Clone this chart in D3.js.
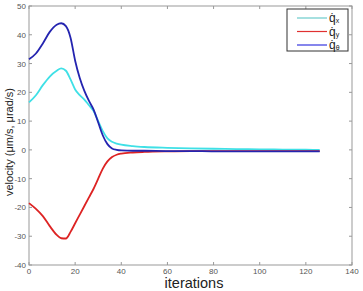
<!DOCTYPE html>
<html>
<head>
<meta charset="utf-8">
<script src="https://cdn.jsdelivr.net/npm/d3@7"></script>
<style>
  body { margin: 0; background: #fff; }
  text { font-family: "Liberation Sans", Arial, sans-serif; }
</style>
</head>
<body>
<script>
/* ------------------------------- Data ------------------------------- */
const iters = [0, 3, 6, 9, 12, 14, 16, 18, 20, 22, 24, 26, 28, 30, 32, 34, 36, 38, 40, 45, 50, 60, 70, 80, 90, 100, 110, 120, 126];
const qx = [16.5, 19, 22.5, 25.5, 27.5, 28.3, 27.5, 24.5, 21, 19, 17.5, 15.5, 13.5, 10, 6.5, 4, 2.8, 2.2, 1.8, 1.3, 1, 0.7, 0.5, 0.4, 0.3, 0.2, 0.1, 0.05, 0];
const qy = [-18.5, -20.5, -23, -26.5, -29.5, -30.7, -30.8, -28.5, -25.5, -22.5, -19.5, -16.5, -13.5, -10, -6.5, -4, -2.5, -1.7, -1.3, -0.9, -0.7, -0.5, -0.4, -0.4, -0.4, -0.4, -0.4, -0.4, -0.4];
const qtheta = [31.5, 33.5, 37, 41, 43.5, 44, 43, 39, 31, 25, 20.5, 17, 14, 9.5, 5, 2, 0.5, 0, -0.2, -0.3, -0.3, -0.4, -0.4, -0.5, -0.5, -0.5, -0.5, -0.5, -0.5];
const xTicks = [0, 20, 40, 60, 80, 100, 120, 140];
const yTicks = [-40, -30, -20, -10, 0, 10, 20, 30, 40, 50];
const seriesNames = ["x", "y", "\u03b8"];

/* ------------------------------ Layout ------------------------------ */
const W = 363, H = 291;
const mLeft = 29, mRight = 352, mTop = 6, mBottom = 265;
const colors = ["#3fe0e6", "#dd2323", "#2424b0"];
const legendColors = ["#6ccccc", "#e03030", "#3434e0"];

const svg = d3.select("body").append("svg").attr("width", W).attr("height", H);

const x = d3.scaleLinear().domain([0, 140]).range([mLeft, mRight]);
const y = d3.scaleLinear().domain([-40, 50]).range([mBottom, mTop]);

// axes box
svg.append("rect")
    .attr("x", mLeft).attr("y", mTop)
    .attr("width", mRight - mLeft).attr("height", mBottom - mTop)
    .attr("fill", "none").attr("stroke", "#999").attr("stroke-width", 1);

const tickLen = 3;
const axisColor = "#999";
const labelColor = "#555";

// bottom + top ticks
xTicks.forEach(t => {
    svg.append("line").attr("x1", x(t)).attr("x2", x(t)).attr("y1", mBottom).attr("y2", mBottom - tickLen).attr("stroke", axisColor);
    svg.append("line").attr("x1", x(t)).attr("x2", x(t)).attr("y1", mTop).attr("y2", mTop + tickLen).attr("stroke", axisColor);
    svg.append("text").attr("x", x(t)).attr("y", mBottom + 8.5)
        .attr("text-anchor", "middle").attr("font-size", "8px").attr("fill", labelColor)
        .text(t);
});

// left + right ticks
yTicks.forEach(t => {
    svg.append("line").attr("x1", mLeft).attr("x2", mLeft + tickLen).attr("y1", y(t)).attr("y2", y(t)).attr("stroke", axisColor);
    svg.append("line").attr("x1", mRight).attr("x2", mRight - tickLen).attr("y1", y(t)).attr("y2", y(t)).attr("stroke", axisColor);
    svg.append("text").attr("x", mLeft - 3).attr("y", y(t) + 3)
        .attr("text-anchor", "end").attr("font-size", "8px").attr("fill", labelColor)
        .text(t);
});

// axis titles
svg.append("text").attr("x", 194).attr("y", 288)
    .attr("text-anchor", "middle").attr("font-size", "14.5px").attr("fill", "#222")
    .text("iterations");

svg.append("text")
    .attr("transform", `translate(13, 142) rotate(-90)`)
    .attr("text-anchor", "middle").attr("font-size", "11px").attr("fill", "#222")
    .text("velocity (\u03bcm/s, \u03bcrad/s)");

/* ------------------------------ Lines ------------------------------- */
const line = d3.line()
    .x((d, i) => x(iters[i]))
    .y(d => y(d))
    .curve(d3.curveMonotoneX);

[qx, qy, qtheta].forEach((s, i) => {
    svg.append("path")
        .attr("d", line(s))
        .attr("fill", "none")
        .attr("stroke", colors[i])
        .attr("stroke-width", 1.8);
});

/* ------------------------------ Legend ------------------------------ */
const lg = svg.append("g");
lg.append("rect").attr("x", 287).attr("y", 9).attr("width", 61).attr("height", 42)
    .attr("fill", "#fff").attr("stroke", "#333").attr("stroke-width", 1);

seriesNames.forEach((n, i) => {
    const ry = 18 + i * 13.5;
    lg.append("line").attr("x1", 297).attr("x2", 327).attr("y1", ry).attr("y2", ry)
        .attr("stroke", legendColors[i]).attr("stroke-width", 1.2);
    const t = lg.append("text").attr("x", 329).attr("y", ry + 4)
        .attr("font-size", "12px").attr("fill", "#222");
    t.append("tspan").text("q\u0307");
    t.append("tspan").attr("font-size", "7px").attr("dy", 1).text(n);
});
</script>
</body>
</html>
